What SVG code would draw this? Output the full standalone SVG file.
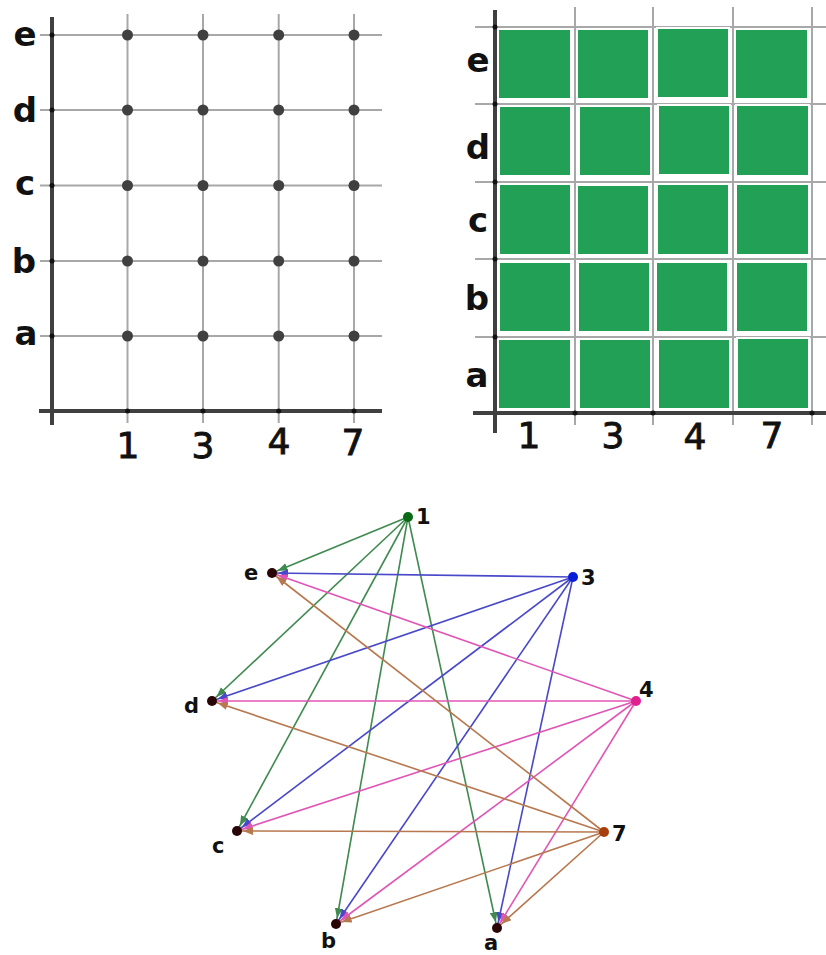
<svg xmlns="http://www.w3.org/2000/svg" width="826" height="955" viewBox="0 0 826 955">
<style>
.grid{stroke:#a8a8a8;stroke-width:2;fill:none}
.axis{stroke:#404040;stroke-width:4;fill:none}
.pt{fill:#404040}
.tick{fill:#111}
.lbl{font-family:"DejaVu Sans",sans-serif;font-size:34px;font-weight:bold;fill:#111;text-anchor:middle}
.num{font-family:"DejaVu Sans",sans-serif;font-size:36px;fill:#111;stroke:#111;stroke-width:0.9;text-anchor:middle}
.cell{fill:#22a056;stroke:#ffffff;stroke-width:2}
.glbl{font-family:"DejaVu Sans",sans-serif;font-size:21px;font-weight:bold;fill:#111}
.e1{stroke:#3f8a4f;stroke-width:1.6;fill:none;marker-end:url(#m1)}
.e3{stroke:#4848c8;stroke-width:1.6;fill:none;marker-end:url(#m3)}
.e4{stroke:#e055b5;stroke-width:1.6;fill:none;marker-end:url(#m4)}
.e7{stroke:#b8784f;stroke-width:1.6;fill:none;marker-end:url(#m7)}
</style>
<defs>
<marker id="m1" markerUnits="userSpaceOnUse" markerWidth="20" markerHeight="10" refX="16" refY="4" orient="auto"><path d="M0,0 L10,4 L0,8 z" fill="#3f8a4f"/></marker>
<marker id="m3" markerUnits="userSpaceOnUse" markerWidth="20" markerHeight="10" refX="16" refY="4" orient="auto"><path d="M0,0 L10,4 L0,8 z" fill="#4848c8"/></marker>
<marker id="m4" markerUnits="userSpaceOnUse" markerWidth="20" markerHeight="10" refX="16" refY="4" orient="auto"><path d="M0,0 L10,4 L0,8 z" fill="#e055b5"/></marker>
<marker id="m7" markerUnits="userSpaceOnUse" markerWidth="20" markerHeight="10" refX="16" refY="4" orient="auto"><path d="M0,0 L10,4 L0,8 z" fill="#b8784f"/></marker>
</defs>
<rect width="826" height="955" fill="#fff"/>

<!-- Top-left grid -->
<g id="grid-left">
<g class="grid">
<line x1="40" y1="35" x2="382" y2="35"/>
<line x1="40" y1="110" x2="382" y2="110"/>
<line x1="40" y1="185.5" x2="382" y2="185.5"/>
<line x1="40" y1="261" x2="382" y2="261"/>
<line x1="40" y1="336" x2="382" y2="336"/>
<line x1="127.5" y1="14" x2="127.5" y2="423"/>
<line x1="203" y1="14" x2="203" y2="423"/>
<line x1="278.7" y1="14" x2="278.7" y2="423"/>
<line x1="354" y1="14" x2="354" y2="423"/>
</g>
<line class="axis" x1="52" y1="17" x2="52" y2="425"/>
<line class="axis" x1="39" y1="411" x2="382" y2="411"/>
<g class="tick">
<circle cx="52" cy="35" r="2.5"/><circle cx="52" cy="110" r="2.5"/><circle cx="52" cy="185.5" r="2.5"/><circle cx="52" cy="261" r="2.5"/><circle cx="52" cy="336" r="2.5"/>
<circle cx="127.5" cy="411" r="2.5"/><circle cx="203" cy="411" r="2.5"/><circle cx="278.7" cy="411" r="2.5"/><circle cx="354" cy="411" r="2.5"/>
</g>
<g class="pt">
<circle cx="127.5" cy="35" r="5.5"/><circle cx="203" cy="35" r="5.5"/><circle cx="278.7" cy="35" r="5.5"/><circle cx="354" cy="35" r="5.5"/>
<circle cx="127.5" cy="110" r="5.5"/><circle cx="203" cy="110" r="5.5"/><circle cx="278.7" cy="110" r="5.5"/><circle cx="354" cy="110" r="5.5"/>
<circle cx="127.5" cy="185.5" r="5.5"/><circle cx="203" cy="185.5" r="5.5"/><circle cx="278.7" cy="185.5" r="5.5"/><circle cx="354" cy="185.5" r="5.5"/>
<circle cx="127.5" cy="261" r="5.5"/><circle cx="203" cy="261" r="5.5"/><circle cx="278.7" cy="261" r="5.5"/><circle cx="354" cy="261" r="5.5"/>
<circle cx="127.5" cy="336" r="5.5"/><circle cx="203" cy="336" r="5.5"/><circle cx="278.7" cy="336" r="5.5"/><circle cx="354" cy="336" r="5.5"/>
</g>
<text class="lbl" x="25" y="46">e</text>
<text class="lbl" x="25" y="122">d</text>
<text class="lbl" x="25" y="195">c</text>
<text class="lbl" x="24" y="273">b</text>
<text class="lbl" x="26" y="345">a</text>
<text class="num" x="128" y="458">1</text>
<text class="num" x="203" y="458">3</text>
<text class="num" x="279" y="454">4</text>
<text class="num" x="353" y="455">7</text>
</g>

<!-- Top-right grid -->
<g id="grid-right">
<g class="grid">
<line x1="475" y1="27" x2="826" y2="27"/>
<line x1="475" y1="104" x2="826" y2="104"/>
<line x1="475" y1="182" x2="826" y2="182"/>
<line x1="475" y1="259" x2="826" y2="259"/>
<line x1="475" y1="337" x2="826" y2="337"/>
<line x1="575" y1="7" x2="575" y2="425"/>
<line x1="653" y1="7" x2="653" y2="425"/>
<line x1="733" y1="7" x2="733" y2="425"/>
<line x1="812" y1="7" x2="812" y2="425"/>
</g>
<g class="cell">
<rect x="498" y="29" width="73" height="70"/><rect x="577" y="29" width="72" height="70"/><rect x="657" y="28" width="72" height="70"/><rect x="735" y="29" width="73" height="70"/>
<rect x="499" y="106" width="72" height="70"/><rect x="579" y="106" width="72" height="70"/><rect x="658" y="105" width="72" height="70"/><rect x="736" y="105" width="73" height="71"/>
<rect x="499" y="184" width="72" height="71"/><rect x="577" y="185" width="72" height="70"/><rect x="657" y="184" width="72" height="71"/><rect x="736" y="184" width="73" height="71"/>
<rect x="499" y="262" width="72" height="70"/><rect x="578" y="262" width="72" height="70"/><rect x="656" y="262" width="72" height="70"/><rect x="736" y="262" width="72" height="70"/>
<rect x="498" y="339" width="73" height="70"/><rect x="579" y="339" width="72" height="70"/><rect x="658" y="339" width="72" height="70"/><rect x="737" y="338" width="72" height="71"/>
</g>
<line class="axis" x1="495" y1="10" x2="495" y2="433"/>
<line class="axis" x1="473" y1="413" x2="826" y2="413"/>
<g class="tick">
<circle cx="495" cy="27" r="2.5"/><circle cx="495" cy="104" r="2.5"/><circle cx="495" cy="182" r="2.5"/><circle cx="495" cy="259" r="2.5"/><circle cx="495" cy="337" r="2.5"/>
<circle cx="575" cy="413" r="2.5"/><circle cx="653" cy="413" r="2.5"/><circle cx="812" cy="413" r="2.5"/>
</g>
<text class="lbl" x="478" y="72">e</text>
<text class="lbl" x="478" y="159">d</text>
<text class="lbl" x="478" y="232">c</text>
<text class="lbl" x="477" y="310">b</text>
<text class="lbl" x="477" y="387">a</text>
<text class="num" x="529" y="448">1</text>
<text class="num" x="613" y="448">3</text>
<text class="num" x="695" y="449">4</text>
<text class="num" x="772" y="448">7</text>
</g>

<!-- Bottom graph -->
<g id="connectors">
<line class="e1" x1="408" y1="517" x2="272" y2="573"/>
<line class="e1" x1="408" y1="517" x2="212" y2="701"/>
<line class="e1" x1="408" y1="517" x2="237" y2="831"/>
<line class="e1" x1="408" y1="517" x2="336" y2="924"/>
<line class="e1" x1="408" y1="517" x2="497" y2="928"/>
<line class="e3" x1="573" y1="577" x2="272" y2="573"/>
<line class="e3" x1="573" y1="577" x2="212" y2="701"/>
<line class="e3" x1="573" y1="577" x2="237" y2="831"/>
<line class="e3" x1="573" y1="577" x2="336" y2="924"/>
<line class="e3" x1="573" y1="577" x2="497" y2="928"/>
<line class="e4" x1="636" y1="701" x2="272" y2="573"/>
<line class="e4" x1="636" y1="701" x2="212" y2="701"/>
<line class="e4" x1="636" y1="701" x2="237" y2="831"/>
<line class="e4" x1="636" y1="701" x2="336" y2="924"/>
<line class="e4" x1="636" y1="701" x2="497" y2="928"/>
<line class="e7" x1="604" y1="832" x2="272" y2="573"/>
<line class="e7" x1="604" y1="832" x2="212" y2="701"/>
<line class="e7" x1="604" y1="832" x2="237" y2="831"/>
<line class="e7" x1="604" y1="832" x2="336" y2="924"/>
<line class="e7" x1="604" y1="832" x2="497" y2="928"/>
</g>
<g id="node-1"><circle cx="408" cy="517" r="5" fill="#0b6b14"/><text class="glbl" x="416" y="524">1</text></g>
<g id="node-3"><circle cx="573" cy="577" r="5" fill="#0a1ed8"/><text class="glbl" x="581" y="585">3</text></g>
<g id="node-4"><circle cx="636" cy="701" r="5" fill="#e0208f"/><text class="glbl" x="639" y="697">4</text></g>
<g id="node-7"><circle cx="604" cy="832" r="5" fill="#a8400e"/><text class="glbl" x="612" y="841">7</text></g>
<g id="node-e"><circle cx="272" cy="573" r="5" fill="#2a0505"/><text class="glbl" x="244" y="580">e</text></g>
<g id="node-d"><circle cx="212" cy="701" r="5" fill="#2a0505"/><text class="glbl" x="184" y="713">d</text></g>
<g id="node-c"><circle cx="237" cy="831" r="5" fill="#2a0505"/><text class="glbl" x="212" y="853">c</text></g>
<g id="node-b"><circle cx="336" cy="924" r="5" fill="#2a0505"/><text class="glbl" x="321" y="948">b</text></g>
<g id="node-a"><circle cx="497" cy="928" r="5" fill="#2a0505"/><text class="glbl" x="484" y="950">a</text></g>
</svg>
